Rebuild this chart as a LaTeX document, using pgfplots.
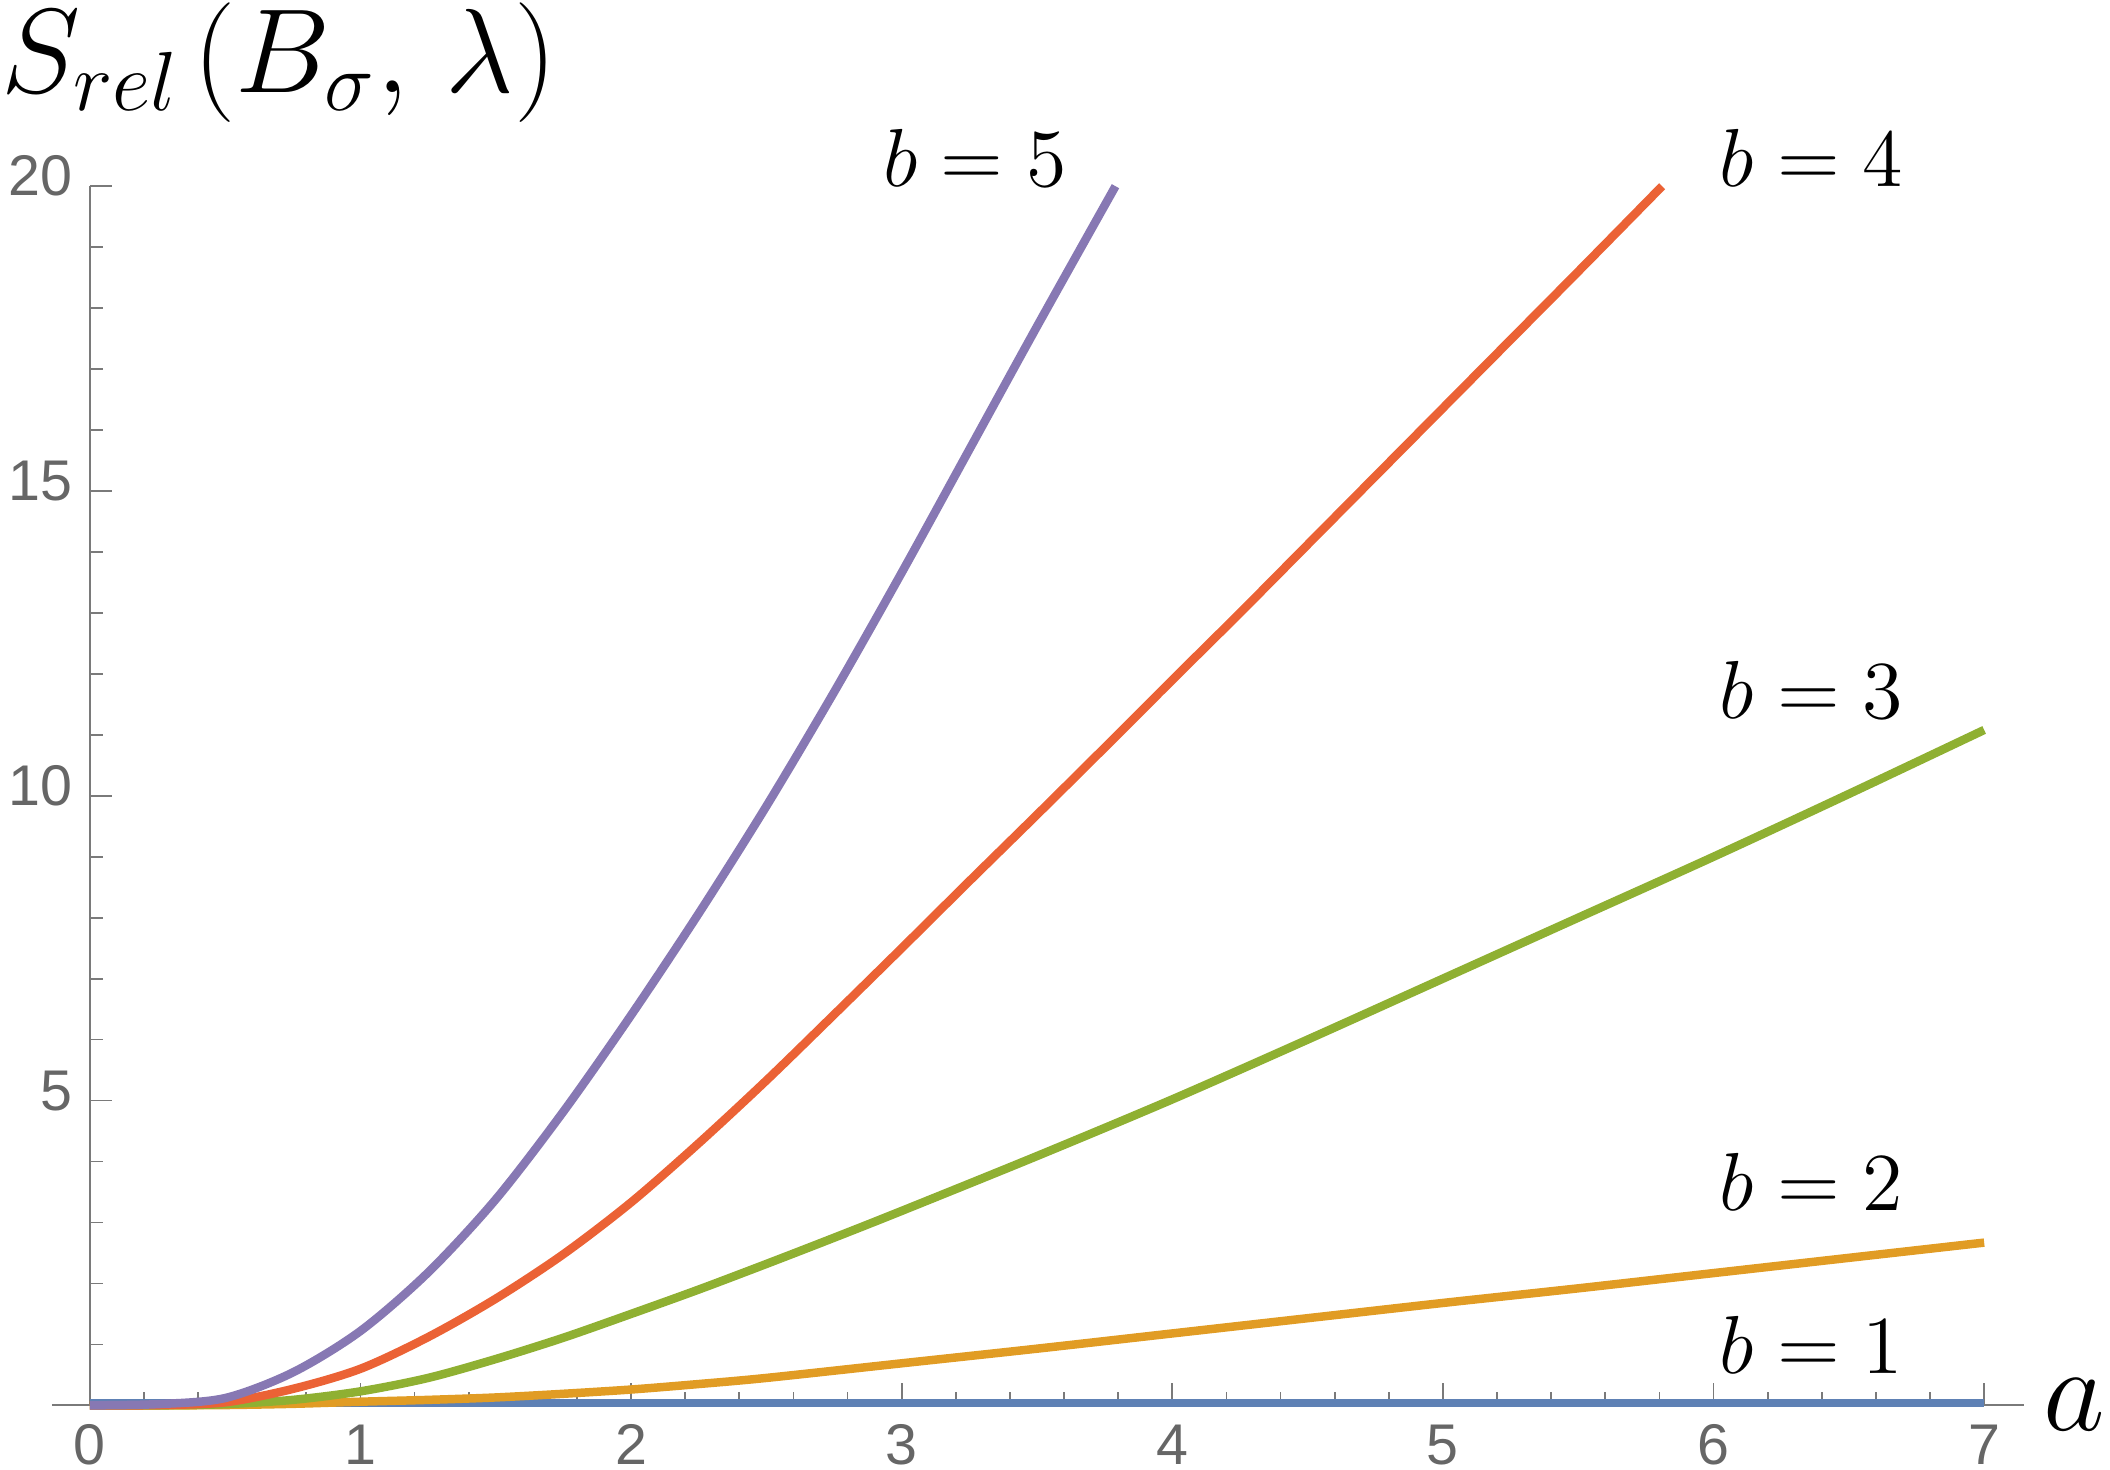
\RequirePackage{fix-cm}
\documentclass[border=0pt]{standalone}
\usepackage{fontspec}
\usepackage{pgfplots}
\pgfplotsset{compat=1.18}
\newfontfamily\tickfont{Liberation Sans}
\definecolor{c1}{HTML}{5E81B5}
\definecolor{c2}{HTML}{E19C24}
\definecolor{c3}{HTML}{8FB032}
\definecolor{c4}{HTML}{EB6235}
\definecolor{c5}{HTML}{8778B3}
\definecolor{axgray}{HTML}{7A7A7A}
\definecolor{tickgray}{HTML}{666666}

\pgfplotstableread{
a S
0 0.035
7 0.035
}\bone
\pgfplotstableread{
a S
0 0
0.25 0
0.5 0.005
0.75 0.025
1 0.06
1.25 0.09
1.5 0.13
1.75 0.19
2 0.26
2.25 0.35
2.5 0.45
3 0.69
3.5 0.93
4 1.18
4.5 1.43
5 1.68
5.5 1.92
6 2.17
6.5 2.42
7 2.67
}\btwo
\pgfplotstableread{
a S
0 0
0.25 0.0
0.5 0.02
0.75 0.09
1 0.23
1.25 0.45
1.5 0.76
1.75 1.11
2 1.5
2.25 1.9
2.5 2.32
2.75 2.75
3 3.19
3.5 4.09
4 5.02
4.5 6.0
5 7.0
5.5 8.0
6 9.0
6.5 10.03
7 11.08
}\bthree
\pgfplotstableread{
a S
0 0
0.25 0.005
0.5 0.05
0.75 0.27
1 0.6
1.25 1.12
1.5 1.75
1.75 2.48
2 3.33
2.25 4.3
2.5 5.33
2.75 6.41
3 7.5
3.25 8.6
3.5 9.69
3.75 10.79
4 11.9
4.25 13.0
4.5 14.12
4.75 15.24
5 16.36
5.25 17.48
5.5 18.6
5.81 20
}\bfour
\pgfplotstableread{
a S
0 0
0.25 0.02
0.5 0.12
0.75 0.54
1 1.22
1.25 2.18
1.5 3.38
1.75 4.82
2 6.4
2.25 8.07
2.5 9.83
2.75 11.7
3 13.66
3.25 15.68
3.5 17.7
3.79 20
}\bfive

\begin{document}
\begin{tikzpicture}
\begin{axis}[
  scale only axis,
  width=395.2pt, height=244.3pt,
  xmin=-0.14, xmax=7.148, ymin=0, ymax=20,
  axis lines=middle,
  axis line style={-, draw=axgray, line width=0.35pt},
  xtick={0,...,7}, ytick={5,10,15,20},
  minor xtick={0.2,0.4,...,6.9},
  minor ytick={1,...,19},
  hide obscured x ticks=false,
  tick align=inside,
  major tick length=4.5pt, minor tick length=2.6pt,
  every tick/.style={axgray, line width=0.35pt},
  clip=false,
  /pgf/number format/assume math mode=true,
  ticklabel style={font=\fontsize{11.5}{13}\selectfont\tickfont, text=tickgray},
  xticklabel style={inner sep=0pt, yshift=-3.7pt},
  yticklabel style={yshift=2pt},
  every axis plot/.append style={line width=1.7pt, line join=round},
]
\addplot[c1, no marks] table[x=a,y=S] {\bone};
\addplot[c2, no marks, smooth] table[x=a,y=S] {\btwo};
\addplot[c3, no marks, smooth] table[x=a,y=S] {\bthree};
\addplot[c4, no marks, smooth] table[x=a,y=S] {\bfour};
\addplot[c5, no marks, smooth] table[x=a,y=S] {\bfive};

\node[anchor=base west, inner sep=0pt, font=\fontsize{16.5}{20}\selectfont] at (axis cs:2.93,20) {$b=5$};
\node[anchor=base west, inner sep=0pt, font=\fontsize{16.5}{20}\selectfont] at (axis cs:6.02,20) {$b=4$};
\node[anchor=base west, inner sep=0pt, font=\fontsize{16.5}{20}\selectfont] at (axis cs:6.02,11.26) {$b=3$};
\node[anchor=base west, inner sep=0pt, font=\fontsize{16.5}{20}\selectfont] at (axis cs:6.02,3.19) {$b=2$};
\node[anchor=base west, inner sep=0pt, font=\fontsize{16.5}{20}\selectfont] at (axis cs:6.02,0.52) {$b=1$};
\node[anchor=base west, inner sep=0pt, font=\fontsize{24}{28}\selectfont] at (axis cs:-0.33,21.53) {$S_{rel}\mkern2mu(B_\sigma,\mkern2.5mu\lambda)$};
\node[anchor=base west, inner sep=0pt, font=\fontsize{24}{28}\selectfont] at (axis cs:7.215,-0.41) {$a$};
\coordinate (bbsw) at (axis cs:-0.332,-1.06);
\coordinate (bbne) at (axis cs:7.465,23.055);
\end{axis}
\pgfresetboundingbox
\path[use as bounding box] (bbsw) rectangle (bbne);
\end{tikzpicture}
\end{document}
